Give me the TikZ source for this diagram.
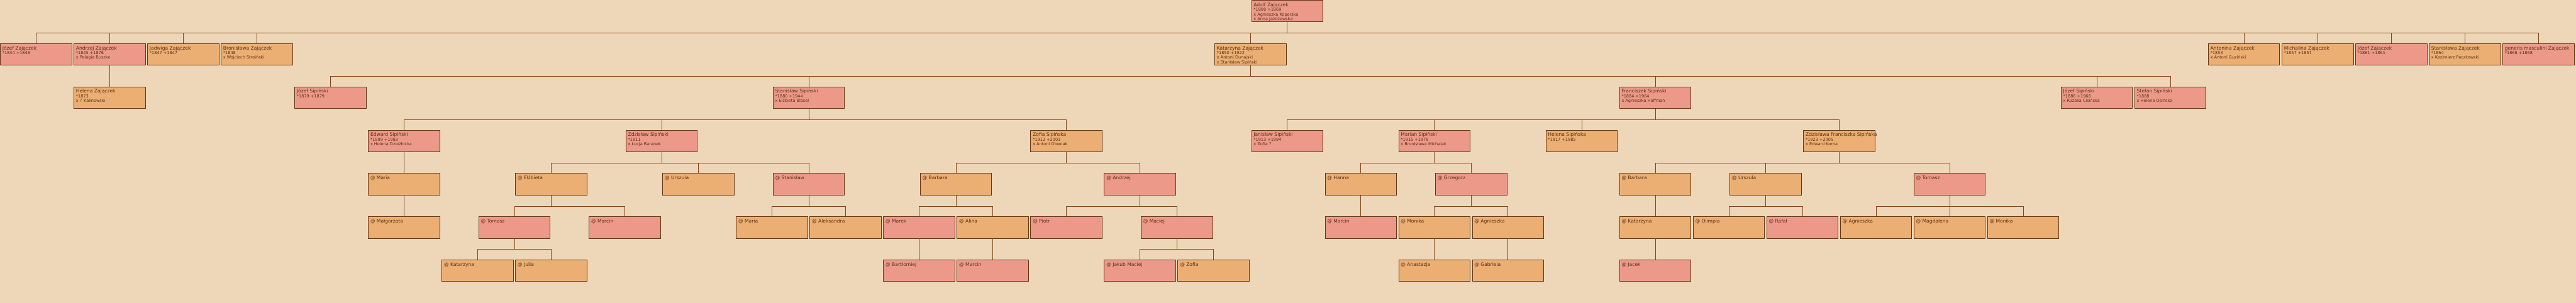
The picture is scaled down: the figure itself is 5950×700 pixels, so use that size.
\documentclass[tikz,border=0pt]{standalone}
\usepackage{fontspec}
\setmainfont{DejaVu Sans}
\usetikzlibrary{positioning}
\definecolor{tlo}{HTML}{EDD7B8}
\definecolor{mezczyzna}{HTML}{EC998A}
\definecolor{kobieta}{HTML}{EBAE73}
\definecolor{ramka}{HTML}{643714}
\definecolor{linia}{HTML}{824619}
\definecolor{pismo}{HTML}{5A3212}
\newcommand{\osoba}[2]{\parbox[c][40pt][t]{155pt}{\fontsize{9.5}{10.8}\selectfont\rule{0pt}{9.3pt}{\fontsize{11}{10.8}\selectfont\mbox{#1}}\\\relax#2}}
\newcommand{\potomek}[1]{\parbox[c][40pt][t]{155pt}{\fontsize{9.5}{10.8}\selectfont\rule{0pt}{9.3pt}{\fontsize{11}{10.8}\selectfont\mbox{#1}}}}
\tikzset{
    rodbox/.style={draw=ramka, line width=1.2pt, anchor=north west, inner sep=5pt, text=pismo, minimum width=165pt, minimum height=50pt},
    rodmale/.style={rodbox, fill=mezczyzna},
    rodfemale/.style={rodbox, fill=kobieta},
    rodlink/.style={draw=linia, line width=0.9pt}
}

\begin{document}
\begin{tikzpicture}[x=1pt, y=-1pt]
    \path[fill=tlo, use as bounding box] (0,0) rectangle (5950,700);

    % pokolenie 0
    \node[rodmale] (adolf) at (2890,0) {\osoba{Adolf Zajączek}{*1808 +1869\\x Agnieszka Koperska\\x Anna Jażdżewska}};

    % pokolenie 1
    \node[rodmale] (jozefza) at (0,100) {\osoba{Józef Zajączek}{*1844 +1848}};
    \node[rodmale] (andrzejza) at (170,100) {\osoba{Andrzej Zajączek}{*1845 +1876\\x Pelagia Buszke}};
    \node[rodfemale] (jadwigaza) at (340,100) {\osoba{Jadwiga Zajączek}{*1847 +1847}};
    \node[rodfemale] (bronislawaza) at (510,100) {\osoba{Bronisława Zajączek}{*1848\\x Wojciech Stroiński}};
    \node[rodfemale] (katarzynaza) at (2805,100) {\osoba{Katarzyna Zajączek}{*1850 +1922\\x Antoni Dunajski\\x Stanisław Sipiński}};
    \node[rodfemale] (antoninaza) at (5100,100) {\osoba{Antonina Zajączek}{*1853\\x Antoni Guziński}};
    \node[rodfemale] (michalinaza) at (5270,100) {\osoba{Michalina Zajączek}{*1857 +1857}};
    \node[rodmale] (jozefzb) at (5440,100) {\osoba{Józef Zajączek}{*1861 +1861}};
    \node[rodfemale] (stanislawaza) at (5610,100) {\osoba{Stanisława Zajączek}{*1864\\x Kazimierz Paczkowski}};
    \node[rodmale] (generisza) at (5780,100) {\osoba{generis masculini Zajączek}{*1868 +1868}};

    % pokolenie 2
    \node[rodfemale] (helenaza) at (170,200) {\osoba{Helena Zajączek}{*1873\\x ? Kalinowski}};
    \node[rodmale] (jozefsa) at (680,200) {\osoba{Józef Sipiński}{*1879 +1879}};
    \node[rodmale] (stanislawsa) at (1785,200) {\osoba{Stanisław Sipiński}{*1880 +1944\\x Elżbieta Blasel}};
    \node[rodmale] (franciszeksa) at (3740,200) {\osoba{Franciszek Sipiński}{*1884 +1964\\x Agnieszka Hoffman}};
    \node[rodmale] (jozefsb) at (4760,200) {\osoba{Józef Sipiński}{*1886 +1968\\x Rozalia Cisińska}};
    \node[rodmale] (stefansa) at (4930,200) {\osoba{Stefan Sipiński}{*1888\\x Helena Osińska}};

    % pokolenie 3
    \node[rodmale] (edwardsa) at (850,300) {\osoba{Edward Sipiński}{*1909 +1983\\x Helena Dzieżbicka}};
    \node[rodmale] (zdzislawsa) at (1445,300) {\osoba{Zdzisław Sipiński}{*1911\\x Łucja Baranek}};
    \node[rodfemale] (zofiasa) at (2380,300) {\osoba{Zofia Sipińska}{*1912 +2001\\x Antoni Głowiak}};
    \node[rodmale] (janislawsa) at (2890,300) {\osoba{Janisław Sipiński}{*1913 +1994\\x Zofia ?}};
    \node[rodmale] (mariansa) at (3230,300) {\osoba{Marian Sipiński}{*1915 +1979\\x Bronisława Michalak}};
    \node[rodfemale] (helenasa) at (3570,300) {\osoba{Helena Sipińska}{*1917 +1985}};
    \node[rodfemale] (zdzislawasa) at (4165,300) {\osoba{Zdzisława Franciszka Sipińska}{*1923 +2005\\x Edward Korna}};

    % pokolenie 4
    \node[rodfemale] (mariaed) at (850,400) {\potomek{@ Maria}};
    \node[rodfemale] (elzbietazd) at (1190,400) {\potomek{@ Elżbieta}};
    \node[rodfemale] (urszulazd) at (1530,400) {\potomek{@ Urszula}};
    \node[rodmale] (stanislawzd) at (1785,400) {\potomek{@ Stanisław}};
    \node[rodfemale] (barbarazo) at (2125,400) {\potomek{@ Barbara}};
    \node[rodmale] (andrzejzo) at (2550,400) {\potomek{@ Andrzej}};
    \node[rodfemale] (hannama) at (3060,400) {\potomek{@ Hanna}};
    \node[rodmale] (grzegorzma) at (3315,400) {\potomek{@ Grzegorz}};
    \node[rodfemale] (barbarazs) at (3740,400) {\potomek{@ Barbara}};
    \node[rodfemale] (urszulazs) at (3995,400) {\potomek{@ Urszula}};
    \node[rodmale] (tomaszzs) at (4420,400) {\potomek{@ Tomasz}};

    % pokolenie 5
    \node[rodfemale] (malgorzataed) at (850,500) {\potomek{@ Małgorzata}};
    \node[rodmale] (tomaszel) at (1105,500) {\potomek{@ Tomasz}};
    \node[rodmale] (marcinel) at (1360,500) {\potomek{@ Marcin}};
    \node[rodfemale] (mariast) at (1700,500) {\potomek{@ Maria}};
    \node[rodfemale] (aleksandrast) at (1870,500) {\potomek{@ Aleksandra}};
    \node[rodmale] (marekba) at (2040,500) {\potomek{@ Marek}};
    \node[rodfemale] (alinaba) at (2210,500) {\potomek{@ Alina}};
    \node[rodmale] (piotran) at (2380,500) {\potomek{@ Piotr}};
    \node[rodmale] (maciejan) at (2635,500) {\potomek{@ Maciej}};
    \node[rodmale] (marcinha) at (3060,500) {\potomek{@ Marcin}};
    \node[rodfemale] (monikagr) at (3230,500) {\potomek{@ Monika}};
    \node[rodfemale] (agnieszkagr) at (3400,500) {\potomek{@ Agnieszka}};
    \node[rodfemale] (katarzynaba) at (3740,500) {\potomek{@ Katarzyna}};
    \node[rodfemale] (olimpiaur) at (3910,500) {\potomek{@ Olimpia}};
    \node[rodmale] (rafalur) at (4080,500) {\potomek{@ Rafał}};
    \node[rodfemale] (agnieszkato) at (4250,500) {\potomek{@ Agnieszka}};
    \node[rodfemale] (magdalenato) at (4420,500) {\potomek{@ Magdalena}};
    \node[rodfemale] (monikato) at (4590,500) {\potomek{@ Monika}};

    % pokolenie 6
    \node[rodfemale] (katarzynato) at (1020,600) {\potomek{@ Katarzyna}};
    \node[rodfemale] (juliato) at (1190,600) {\potomek{@ Julia}};
    \node[rodmale] (bartlomiejma) at (2040,600) {\potomek{@ Bartłomiej}};
    \node[rodmale] (marcinal) at (2210,600) {\potomek{@ Marcin}};
    \node[rodmale] (jakubma) at (2550,600) {\potomek{@ Jakub Maciej}};
    \node[rodfemale] (zofiama) at (2720,600) {\potomek{@ Zofia}};
    \node[rodfemale] (anastazjamo) at (3230,600) {\potomek{@ Anastazja}};
    \node[rodfemale] (gabrielaag) at (3400,600) {\potomek{@ Gabriela}};
    \node[rodmale] (jacekka) at (3740,600) {\potomek{@ Jacek}};

    % polaczenia rodzic -> dzieci
    \foreach \rodzic/\dzieci in {
        adolf/{jozefza,andrzejza,jadwigaza,bronislawaza,katarzynaza,antoninaza,michalinaza,jozefzb,stanislawaza,generisza},
        andrzejza/{helenaza},
        katarzynaza/{jozefsa,stanislawsa,franciszeksa,jozefsb,stefansa},
        stanislawsa/{edwardsa,zdzislawsa,zofiasa},
        franciszeksa/{janislawsa,mariansa,helenasa,zdzislawasa},
        edwardsa/{mariaed}, zdzislawsa/{elzbietazd,urszulazd,stanislawzd},
        zofiasa/{barbarazo,andrzejzo}, mariansa/{hannama,grzegorzma},
        zdzislawasa/{barbarazs,urszulazs,tomaszzs},
        mariaed/{malgorzataed}, elzbietazd/{tomaszel,marcinel},
        stanislawzd/{mariast,aleksandrast}, barbarazo/{marekba,alinaba},
        andrzejzo/{piotran,maciejan}, hannama/{marcinha},
        grzegorzma/{monikagr,agnieszkagr}, barbarazs/{katarzynaba},
        urszulazs/{olimpiaur,rafalur}, tomaszzs/{agnieszkato,magdalenato,monikato},
        tomaszel/{katarzynato,juliato}, marekba/{bartlomiejma},
        alinaba/{marcinal}, maciejan/{jakubma,zofiama},
        monikagr/{anastazjamo}, agnieszkagr/{gabrielaag}, katarzynaba/{jacekka}}
        \foreach \dziecko in \dzieci
            \draw[rodlink] (\rodzic.south) -- ++(0,25) -| (\dziecko.north);
\end{tikzpicture}
\end{document}
